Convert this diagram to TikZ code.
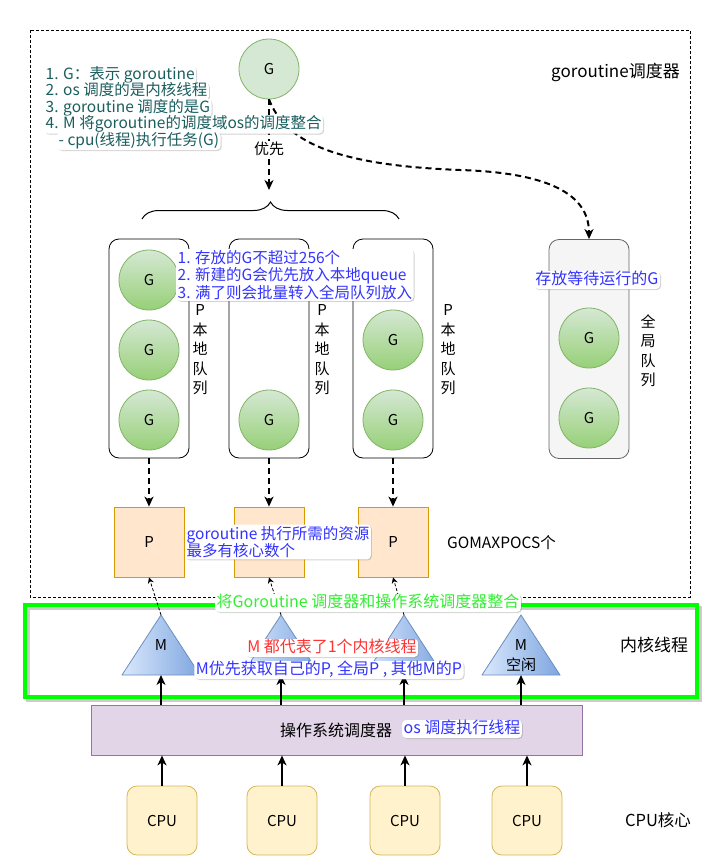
\documentclass[tikz,border=0pt]{standalone}
\usepackage{fontspec}
\setmainfont{Noto Sans CJK SC}
\usepackage{tikz}
\usetikzlibrary{arrows,arrows.meta,shapes,calc,positioning,decorations.pathreplacing,shadows}
\definecolor{gfill}{HTML}{D5E8D4}
\definecolor{gdark}{HTML}{97D077}
\definecolor{gdraw}{HTML}{82B366}
\definecolor{pfill}{HTML}{FFE6CC}
\definecolor{pdraw}{HTML}{D79B00}
\definecolor{mlight}{HTML}{DAE8FC}
\definecolor{mdark}{HTML}{7EA6E0}
\definecolor{mdraw}{HTML}{6C8EBF}
\definecolor{osfill}{HTML}{E1D5E7}
\definecolor{osdraw}{HTML}{9673A6}
\definecolor{cpufill}{HTML}{FFF2CC}
\definecolor{cpudraw}{HTML}{D6B656}
\definecolor{qfill}{HTML}{F5F5F5}
\definecolor{qdraw}{HTML}{666666}
\definecolor{kgreen}{HTML}{00FF00}
\definecolor{notegreen}{HTML}{33EE33}
\definecolor{noteblue}{HTML}{3333FF}
\definecolor{notered}{HTML}{FF3333}
\definecolor{noteteal}{HTML}{1B5E5E}
\tikzstyle{lbl}   =[font=\fontsize{15}{18}\selectfont, inner sep=1pt]
\tikzstyle{gnode} =[circle, draw=gdraw, top color=gfill, bottom color=gdark,
                    minimum size=60pt, inner sep=0pt, line width=0.8pt, lbl]
\tikzstyle{gtop}  =[circle, draw=gdraw, fill=gfill,
                    minimum size=60pt, inner sep=0pt, line width=0.8pt, lbl]
\tikzstyle{queue} =[draw, rounded corners=10pt, minimum width=80pt,
                    minimum height=219pt, line width=0.8pt]
\tikzstyle{gqueue}=[queue, draw=qdraw, fill=qfill]
\tikzstyle{vlbl}  =[align=center, font=\fontsize{15}{19.5}\selectfont]
\tikzstyle{pbox}  =[draw=pdraw, fill=pfill, minimum size=70pt,
                    line width=0.8pt, lbl]
\tikzstyle{mtri}  =[draw=mdraw, left color=mlight, right color=mdark,
                    line width=0.8pt]
\tikzstyle{osbox} =[draw=osdraw, fill=osfill, minimum width=491pt,
                    minimum height=50pt, line width=0.8pt]
\tikzstyle{cpu}   =[draw=cpudraw, fill=cpufill, rounded corners=10pt,
                    minimum width=70pt, minimum height=69pt,
                    line width=0.8pt, lbl]
\tikzstyle{edge}  =[>={Stealth[length=10pt,width=9pt,inset=3pt]},
                    line width=2pt]
\tikzstyle{dedge} =[edge, dash pattern=on 6pt off 4pt]
\tikzstyle{pedge} =[>={Stealth[length=6pt,width=6pt,inset=2pt]},
                    line width=0.8pt, dash pattern=on 3pt off 2pt]
\tikzstyle{note}  =[fill=white, rounded corners=4pt, inner sep=1.5pt,
                    align=left, font=\fontsize{15.5}{16.5}\selectfont,
                    drop shadow={shadow xshift=1pt, shadow yshift=-1pt,
                    opacity=0.35}]
\tikzstyle{noteline}=[note, text height=11.5pt, text depth=3.5pt]

\begin{document}
\begin{tikzpicture}[x=1pt,y=-1pt]
    \useasboundingbox (0,0) rectangle (712,867);

    % goroutine scheduler
    \draw[dash pattern=on 3pt off 2pt, line width=0.8pt] (30,30) rectangle (690,597);
    \draw (550,72) node (title) [anchor=west, lbl, font=\fontsize{17}{18}\selectfont] {goroutine调度器};
    \draw (269,69) node (g0) [gtop] {G};

    \foreach \n/\x in {q1/149,q2/269,q3/393}
        \draw (\x,348.5) node (\n) [queue] {};
    \draw (589,349) node (gq) [gqueue] {};

    \foreach \n/\x/\y in {g11/149/280,g12/149/350,g13/149/420,g21/269/420,
                          g31/393/340,g32/393/420,gg1/589/338,gg2/589/418}
        \draw (\x,\y) node (\n) [gnode] {G};

    \foreach \i/\x in {1/200,2/322,3/448}
        \draw (\x,350) node (pl\i) [vlbl] {P\\本\\地\\队\\列};
    \draw (648,351) node (gl) [vlbl] {全\\局\\队\\列};

    \draw (149,542) node (p1) [pbox] {P};
    \draw (269,542) node (p2) [pbox] {};
    \draw (393,542) node (p3) [pbox] {P};
    \draw (446,543) node (gmp) [anchor=west, lbl, font=\fontsize{15.5}{18}\selectfont] {GOMAXPOCS个};

    \coordinate (bt) at (269,190);
    \draw[dedge,->] (g0.south) .. controls (285,140) and (330,165) .. (460,170)
        .. controls (560,173) and (589,200) .. (gq.north);
    \draw[dedge,->] (g0.south) -- node[pos=0.55] (pri) [fill=white, lbl] {优先} (bt);
    \draw[decorate, decoration={brace, amplitude=17pt}, line width=1pt] (142,219) -- (399,219);

    % kernel threads
    \draw[black, opacity=0.2, line width=4pt] (28,608) rectangle (700,700);
    \draw[kgreen, line width=4pt] (25,605) rectangle (697,697);
    \draw (654,645) node (kt) [lbl, font=\fontsize{17}{18}\selectfont] {内核线程};

    \foreach \i/\x in {1/161,2/281,3/404,4/521} {
        \shadedraw[mtri] (\x-39,675) -- (\x,615) -- (\x+39,675) -- cycle;
        \coordinate (m\i t) at (\x,615);
        \coordinate (m\i b) at (\x,675);
    }
    \draw (161,645) node (m1) [lbl] {M};
    \draw (521,655.5) node (m4) [lbl, align=center, font=\fontsize{15}{20}\selectfont] {M\\空闲};

    % os scheduler and cpus
    \draw (336.5,730) node (os) [osbox] {};
    \draw (336,730) node (ost) [lbl, font=\fontsize{16}{18}\selectfont] {操作系统调度器};
    \foreach \i/\x in {1/162,2/282,3/405,4/527}
        \draw (\x,820.5) node (c\i) [cpu] {CPU};
    \draw (658,820) node (core) [lbl, font=\fontsize{16.5}{18}\selectfont] {CPU核心};

    \foreach \i in {1,...,4} {
        \draw[edge,->] (c\i.north) -- (c\i.north |- os.south);
        \draw[edge,->] (m\i b |- os.north) -- (m\i b);
    }
    \foreach \i in {1,2,3} {
        \draw[dedge,->] (q\i.south) -- (p\i.north);
        \draw[pedge,->] (m\i t) -- (p\i.south);
    }

    % notes
    \foreach \i/\x/\y/\t in {1/44/75/{1. G：表示 goroutine},
                             2/44/91.5/{2. os 调度的是内核线程},
                             3/44/108/{3. goroutine 调度的是G},
                             4/44/124.5/{4. M 将goroutine的调度域os的调度整合},
                             5/57/141/{- cpu(线程)执行任务(G)}}
        \draw (\x,\y) node (n1\i) [noteline, anchor=west, text=noteteal] {\t};
    \draw (176,275) node (n2) [note, anchor=west, text=noteblue]
        {1. 存放的G不超过256个\\2. 新建的G会优先放入本地queue\\3. 满了则会批量转入全局队列放入};
    \draw (597,280) node (n3) [noteline, text=noteblue, font=\fontsize{16}{17}\selectfont] {存放等待运行的G};
    \draw (185,542) node (n4) [note, anchor=west, text=noteblue, font=\fontsize{15.5}{17.5}\selectfont]
        {goroutine 执行所需的资源\\最多有核心数个};
    \draw (368,603) node (n5) [noteline, text=notegreen, font=\fontsize{16}{17}\selectfont] {将Goroutine 调度器和操作系统调度器整合};
    \draw (332,648) node (n6) [noteline, text=notered, font=\fontsize{16}{17}\selectfont] {M 都代表了1个内核线程};
    \draw (329,670) node (n7) [noteline, text=noteblue, font=\fontsize{16}{17}\selectfont] {M优先获取自己的P, 全局P , 其他M的P};
    \draw (462,729) node (n8) [noteline, text=noteblue, font=\fontsize{16}{17}\selectfont] {os 调度执行线程};

\end{tikzpicture}
\end{document}
